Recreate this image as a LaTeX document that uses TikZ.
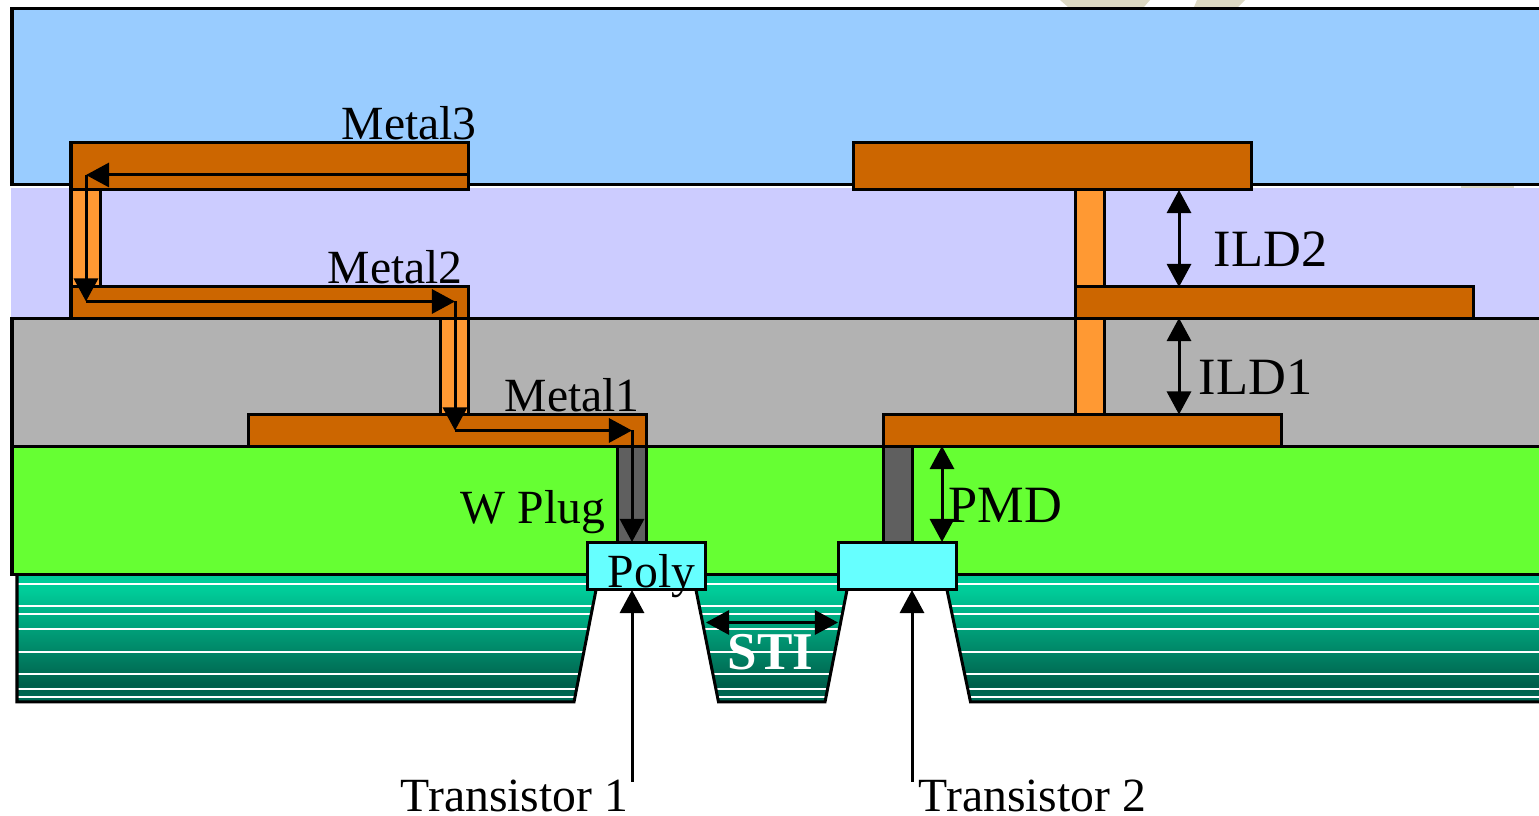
\documentclass[tikz,border=0pt]{standalone}
\usepackage{fontspec}
\setmainfont{Liberation Serif}
\usetikzlibrary{arrows.meta}

\definecolor{oxidetop}{HTML}{99CCFF}
\definecolor{oxidemid}{HTML}{CCCCFF}
\definecolor{oxidelow}{HTML}{B2B2B2}
\definecolor{pmdgreen}{HTML}{66FF33}
\definecolor{metalcol}{HTML}{CC6600}
\definecolor{viacol}{HTML}{FF9933}
\definecolor{plugcol}{HTML}{5F5F5F}
\definecolor{polycol}{HTML}{66FFFF}
\definecolor{markcol}{HTML}{DDD9C3}
\definecolor{stitop}{HTML}{00CC99}
\definecolor{stilow}{HTML}{005F4B}
\definecolor{stiend}{HTML}{006F58}

\pgfdeclareverticalshading{stishade}{100bp}{
    color(0bp)=(stiend);
    color(25bp)=(stiend);
    color(31.7bp)=(stilow);
    color(69bp)=(stitop);
    color(100bp)=(stitop)}

\tikzset{
    layer/.style={draw=black, line width=0.03cm},
    metal/.style={draw=black, line width=0.03cm, fill=metalcol},
    via/.style={draw=black, line width=0.03cm, fill=viacol},
    plug/.style={draw=black, line width=0.03cm, fill=plugcol},
    poly/.style={draw=black, line width=0.03cm, fill=polycol},
    route/.style={-{Triangle[length=0.23cm,width=0.24cm]}, line width=0.03cm},
    span/.style={{Triangle[length=0.23cm,width=0.24cm]}-{Triangle[length=0.23cm,width=0.24cm]}, line width=0.03cm},
    lbl/.style={anchor=base west, inner sep=0pt, font=\fontsize{13.55}{16}\selectfont},
    biglbl/.style={anchor=base west, inner sep=0pt, font=\fontsize{14.9}{17}\selectfont},
}

\begin{document}
\begin{tikzpicture}[x=0.01cm, y=-0.01cm, line join=miter]
\useasboundingbox (0,0) rectangle (1539,816);
\clip (0,0) rectangle (1539,816);

% Faint marks behind the stack
\fill[markcol] (1060,0) -- (1150,0) -- (1144,7) -- (1068,7) -- cycle;
\fill[markcol] (1197,0) -- (1245,0) -- (1238,7) -- (1194,7) -- cycle;
\fill[markcol] (1461,185) rectangle (1514,189);

% Dielectric layers ------------------------------
\fill[oxidemid] (11,188) rectangle (1560,318);
\draw[layer, fill=oxidetop] (12,9) rectangle (1560,185);
\draw[layer, fill=oxidelow] (12,318.6) rectangle (1560,446.6);

% Trench regions ------------------------------
\begin{scope}
    \clip (17,575) -- (17,702) -- (574,702) -- (596,590) -- (596,575) -- cycle
          (696,575) -- (696,590) -- (718,702) -- (825,702) -- (847,590) -- (847,575) -- cycle
          (947,575) -- (947,590) -- (970,702) -- (1560,702) -- (1560,575) -- cycle;
    \shade[shading=stishade] (0,575) rectangle (1560,702);
    \foreach \y in {584,606,614,629,652,674,689,697} {
        \draw[white, line width=0.012cm] (0,\y) -- (1560,\y);
    }
\end{scope}
\draw[line width=0.03cm] (17,575) -- (17,702) -- (574,702) -- (596,590);
\draw[line width=0.03cm] (696,590) -- (718.5,702) -- (825,702) -- (847,590);
\draw[line width=0.03cm] (947,590) -- (970.5,702) -- (1560,702);

\draw[layer, fill=pmdgreen] (12,446.6) rectangle (1560,574.6);

% Left stack ------------------------------
\draw[via] (71,190) rectangle (100.5,287);
\draw[via] (440,318.6) rectangle (468.5,414.6);
\draw[plug] (617,446.6) rectangle (646.5,542.6);
\draw[metal] (71,143) rectangle (468.6,190);
\draw[metal] (71,287) rectangle (468.6,318.6);
\draw[metal] (248,414.6) rectangle (646.6,446.6);
\draw[poly] (587,542.6) rectangle (705.6,590);

% Right stack ------------------------------
\draw[via] (1075,190) rectangle (1104.5,287);
\draw[via] (1075,318.6) rectangle (1104.5,414.6);
\draw[plug] (883,446.6) rectangle (912.5,542.6);
\draw[metal] (853,143) rectangle (1251.6,190);
\draw[metal] (1075,287) rectangle (1473.6,318.6);
\draw[metal] (883,414.6) rectangle (1281.6,446.6);
\draw[poly] (838,542.6) rectangle (956.6,590);

% Current path
\coordinate (m3_start) at (469,175);
\coordinate (m3_end) at (86,175);
\coordinate (m2_start) at (86,301.5);
\coordinate (m2_end) at (455,301.5);
\coordinate (m1_start) at (455,430.5);
\coordinate (m1_end) at (632,430.5);
\coordinate (poly_top) at (632,542);
\draw[route] (m3_start) -- (m3_end);
\draw[route] (m3_end) -- (m2_start);
\draw[route] (m2_start) -- (m2_end);
\draw[route] (m2_end) -- (m1_start);
\draw[route] (m1_start) -- (m1_end);
\draw[route] (m1_end) -- (poly_top);

% Thickness arrows
\coordinate (ild2_top) at (1179,190);
\coordinate (ild2_low) at (1179,287);
\coordinate (ild1_top) at (1179,318);
\coordinate (ild1_low) at (1179,414.5);
\coordinate (pmd_top) at (942,446);
\coordinate (pmd_low) at (942,542);
\coordinate (sti_left) at (706,622.5);
\coordinate (sti_right) at (838,622.5);
\draw[span] (ild2_top) -- (ild2_low);
\draw[span] (ild1_top) -- (ild1_low);
\draw[span] (pmd_top) -- (pmd_low);
\draw[span] (sti_left) -- (sti_right);

% Transistor arrows
\coordinate (t1_foot) at (632,782);
\coordinate (t1_gate) at (632,590);
\coordinate (t2_foot) at (912,782);
\coordinate (t2_gate) at (912,590);
\draw[route] (t1_foot) -- (t1_gate);
\draw[route] (t2_foot) -- (t2_gate);

% Labels
\node[lbl] (metal3) at (341,140) {Metal3};
\node[lbl] (metal2) at (327,284) {Metal2};
\node[lbl] (metal1) at (504,412) {Metal1};
\node[lbl] (wplug) at (460,524) {W Plug};
\node[lbl] (polylbl) at (607,587.5) {Poly};
\node[biglbl] (ild2) at (1213,267) {ILD2};
\node[biglbl] (ild1) at (1198,395) {ILD1};
\node[biglbl] (pmd) at (948,523) {PMD};
\node[biglbl, text=white, font=\fontsize{15.1}{17}\selectfont\bfseries] (sti) at (727,670) {STI};
\node[lbl] (trans1) at (400,811) {Transistor 1};
\node[lbl] (trans2) at (918,811) {Transistor 2};

\end{tikzpicture}
\end{document}
